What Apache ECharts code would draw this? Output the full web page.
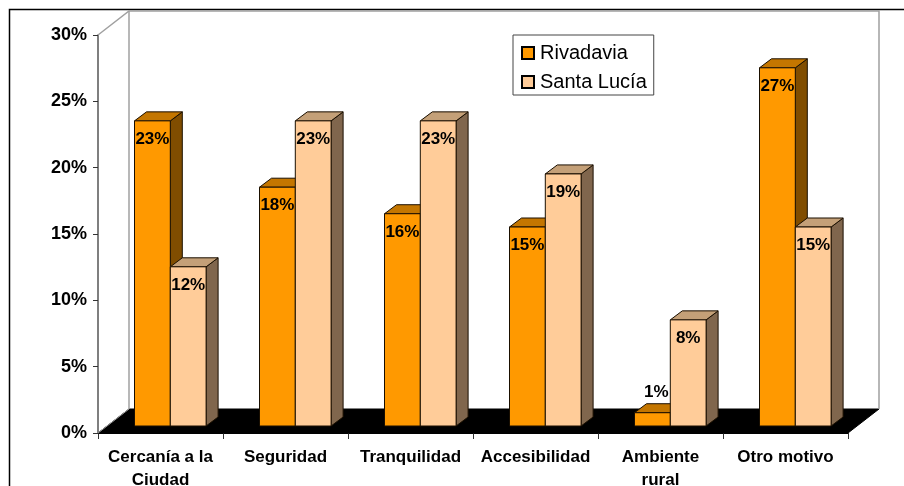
<!DOCTYPE html>
<html>
<head>
<meta charset="utf-8">
<style>html,body{margin:0;padding:0;background:#fff}#c{width:904px;height:486px}</style>
<script src="https://cdn.jsdelivr.net/npm/echarts@6/dist/echarts.min.js"></script>
</head>
<body>
<div id="c"></div>
<script>
const categories = ['Cercanía a la\nCiudad', 'Seguridad', 'Tranquilidad', 'Accesibilidad', 'Ambiente\nrural', 'Otro motivo'];
const rivadavia = [23, 18, 16, 15, 1, 27];
const santaLucia = [12, 23, 23, 19, 8, 15];
const FONT = '"Liberation Sans", Arial, sans-serif';

const WALL = { dx: 31, dy: -24 };
const SHIFT = { dx: 9.5, dy: -7 };
const BAR = { dx: 12, dy: -9, lead: 36.5, width: 35.8 };

function renderRoom(params, api) {
  const band = api.size([1, 0])[0];
  const l = api.coord([0, 0])[0] - band / 2;
  const r = l + band * categories.length;
  const y0 = api.coord([0, 0])[1];
  const yT = api.coord([0, 30])[1];
  const grey = { stroke: '#a0a0a0', lineWidth: 1.5, fill: 'none' };
  return {
    type: 'group',
    children: [
      { type: 'polygon', shape: { points: [[l, y0], [l + WALL.dx, y0 + WALL.dy], [r + WALL.dx, y0 + WALL.dy], [r, y0]] },
        style: { fill: '#000', stroke: '#000', lineWidth: 1 } },
      { type: 'polyline', shape: { points: [[l, yT], [l + WALL.dx, yT + WALL.dy], [r + WALL.dx, yT + WALL.dy], [r + WALL.dx, y0 + WALL.dy]] }, style: grey },
      { type: 'line', shape: { x1: l + WALL.dx, y1: yT + WALL.dy, x2: l + WALL.dx, y2: y0 + WALL.dy }, style: { stroke: '#a0a0a0', lineWidth: 1.5 } },
      { type: 'line', shape: { x1: l, y1: y0, x2: l + WALL.dx, y2: y0 + WALL.dy }, style: { stroke: '#a0a0a0', lineWidth: 1 } }
    ]
  };
}

function renderBars(slot, colors) {
  return function (params, api) {
    const band = api.size([1, 0])[0];
    const idx = api.value(0);
    const val = api.value(1);
    const base = api.coord([idx, 0]);
    const top = api.coord([idx, val]);
    const x0 = base[0] - band / 2 + BAR.lead + slot * BAR.width;
    const x1 = x0 + BAR.width;
    const yb = base[1] + SHIFT.dy;
    const yt = top[1] + SHIFT.dy;
    const edge = { stroke: '#1a0f00', lineWidth: 1, lineJoin: 'round' };
    const face = (pts, fill) => ({ type: 'polygon', shape: { points: pts }, style: Object.assign({ fill }, edge) });
    const short = yb - yt < 24;
    return {
      type: 'group',
      children: [
        face([[x1, yb], [x1 + BAR.dx, yb + BAR.dy], [x1 + BAR.dx, yt + BAR.dy], [x1, yt]], colors.side),
        face([[x0, yt], [x0 + BAR.dx, yt + BAR.dy], [x1 + BAR.dx, yt + BAR.dy], [x1, yt]], colors.top),
        face([[x0, yb], [x1, yb], [x1, yt], [x0, yt]], colors.front),
        { type: 'text', style: {
            text: val + '%',
            x: (x0 + x1) / 2 + (short ? 4 : 0),
            y: short ? yt - 20 : yt + 18.5,
            align: 'center', verticalAlign: 'middle',
            fill: '#000', font: 'bold 17px ' + FONT } }
      ]
    };
  };
}

const toData = arr => arr.map((v, i) => [i, v]);
const chart = echarts.init(document.getElementById('c'), null, { renderer: 'canvas' });
chart.setOption({
  animation: false,
  backgroundColor: '#fff',
  graphic: [{ type: 'rect', silent: true, z: 0,
    shape: { x: 9.5, y: 9.5, width: 1000, height: 600 },
    style: { fill: 'none', stroke: '#000', lineWidth: 1.5 } }],
  grid: { left: 98, top: 35, width: 750, height: 398, outerBoundsMode: 'none', containLabel: false },
  legend: {
    orient: 'vertical', left: 513, top: 35,
    data: ['Rivadavia', 'Santa Lucía'],
    icon: 'rect', itemWidth: 12, itemHeight: 12, itemGap: 9,
    padding: [8, 7, 3, 8],
    backgroundColor: '#fff', borderColor: '#444', borderWidth: 1, borderRadius: 0,
    textStyle: { fontFamily: FONT, fontSize: 20, color: '#000', padding: [0, 0, 0, 1] }
  },
  xAxis: {
    type: 'category', data: categories, boundaryGap: true,
    axisLine: { show: true, lineStyle: { color: '#000', width: 1 } },
    axisTick: { show: true, alignWithLabel: false, length: 6, lineStyle: { color: '#333', width: 1 } },
    axisLabel: { interval: 0, margin: 12.5, fontFamily: FONT, fontWeight: 'bold', fontSize: 17, lineHeight: 23, color: '#000' }
  },
  yAxis: {
    type: 'value', min: 0, max: 30, interval: 5,
    splitLine: { show: false },
    axisLine: { show: true, lineStyle: { color: '#555', width: 1.5 } },
    axisTick: { show: true, length: 5, lineStyle: { color: '#333', width: 1 } },
    axisLabel: { margin: 11, formatter: '{value}%', fontFamily: FONT, fontWeight: 'bold', fontSize: 18, color: '#000' }
  },
  series: [
    { type: 'custom', name: 'room', silent: true, clip: false, z: 1, data: [[0, 0]], renderItem: renderRoom, encode: { x: 0, y: 1 } },
    { type: 'custom', name: 'Rivadavia', clip: false, z: 2, data: toData(rivadavia), encode: { x: 0, y: 1 },
      itemStyle: { color: '#FF9900', borderColor: '#000', borderWidth: 1 },
      renderItem: renderBars(0, { front: '#FF9900', top: '#C47600', side: '#804D00' }) },
    { type: 'custom', name: 'Santa Lucía', clip: false, z: 3, data: toData(santaLucia), encode: { x: 0, y: 1 },
      itemStyle: { color: '#FFCC99', borderColor: '#000', borderWidth: 1 },
      renderItem: renderBars(1, { front: '#FFCC99', top: '#C4A078', side: '#80664D' }) }
  ]
});
</script>
</body>
</html>
